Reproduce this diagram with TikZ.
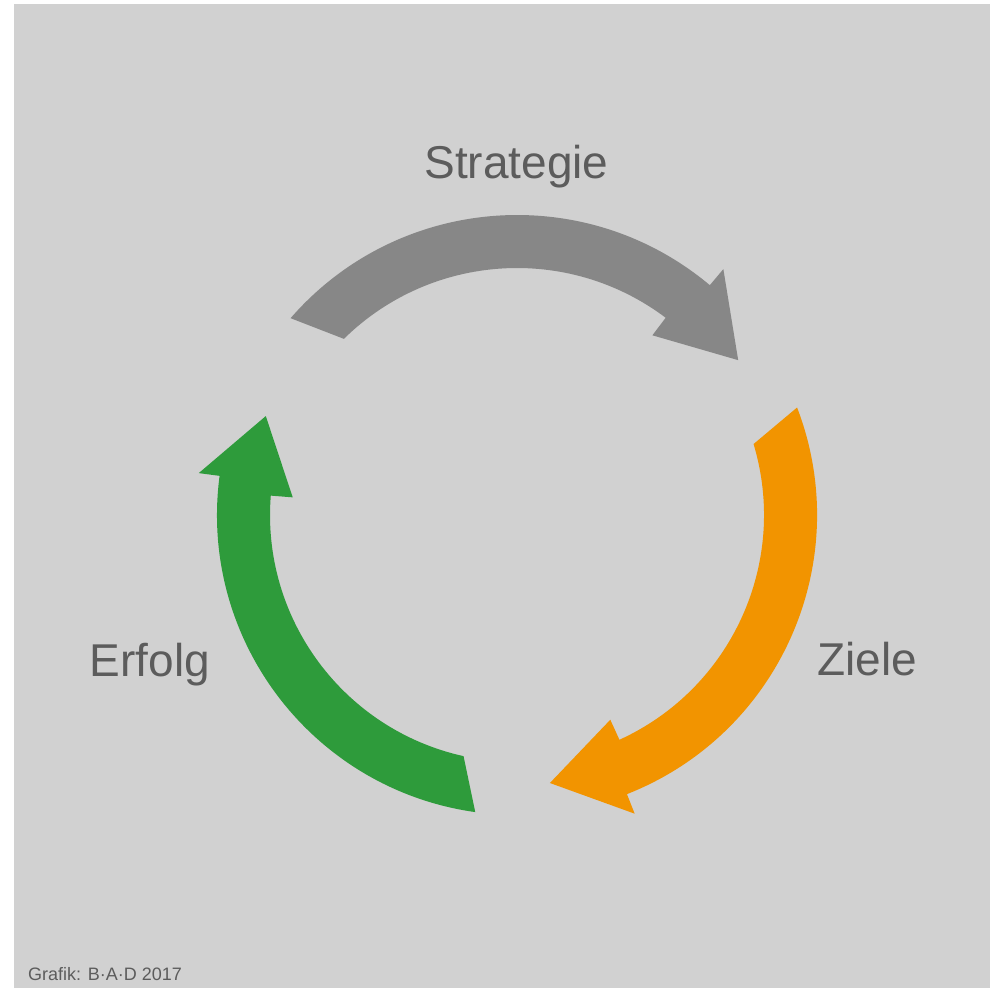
\documentclass[tikz,border=0pt]{standalone}
\usepackage{fontspec}
\setmainfont{Liberation Sans}
\definecolor{panel}{HTML}{D1D1D1}
\definecolor{greyarrow}{HTML}{878787}
\definecolor{orangearrow}{HTML}{F29400}
\definecolor{greenarrow}{HTML}{2E9B3B}
\definecolor{labeltext}{HTML}{5C5C5C}
\tikzset{
  label text/.style={text=labeltext, inner sep=0pt, anchor=base,
    font=\fontsize{46}{50}\selectfont},
  credit text/.style={text=labeltext, inner sep=0pt, anchor=base west,
    font=\fontsize{18}{20}\selectfont},
}
% curved arrow along the ring, running clockwise
% #1 tail outer angle, #2 tail inner angle, #3 head back angle (outer),
% #4 head back angle (inner), #5 tip angle, #6 fill colour
\newcommand{\ringarrow}[6]{%
  \fill[#6] (#1:300) arc[start angle=#1, end angle=#3, radius=300]
    -- (#3:321) -- (#5:270) -- (#4:225) -- (#4:247)
    arc[start angle=#4, end angle=#2, radius=247] -- cycle;}
\begin{document}
\begin{tikzpicture}[x=1pt,y=1pt]
  \useasboundingbox (0,0) rectangle (990,-989);
  \fill[white] (0,0) rectangle (990,-989);
  \fill[panel] (14,-4) rectangle (990,-988);

  \begin{scope}[shift={(517,-515)}]
    \ringarrow{139}{134.5}{50}{53}{35}{greyarrow}
    \ringarrow{21}{16.7}{-68.5}{-65.5}{-83}{orangearrow}
    \ringarrow{262}{257.5}{172.5}{175.5}{158.5}{greenarrow}
  \end{scope}

  \node[label text] (strategie) at (516.5,-178) {Strategie};
  \node[label text] (ziele) at (867.5,-675) {Ziele};
  \node[label text] (erfolg) at (150,-676) {Erfolg};
  \node[credit text] (credit) at (28,-980) {Grafik: B·A·D 2017};
\end{tikzpicture}
\end{document}
